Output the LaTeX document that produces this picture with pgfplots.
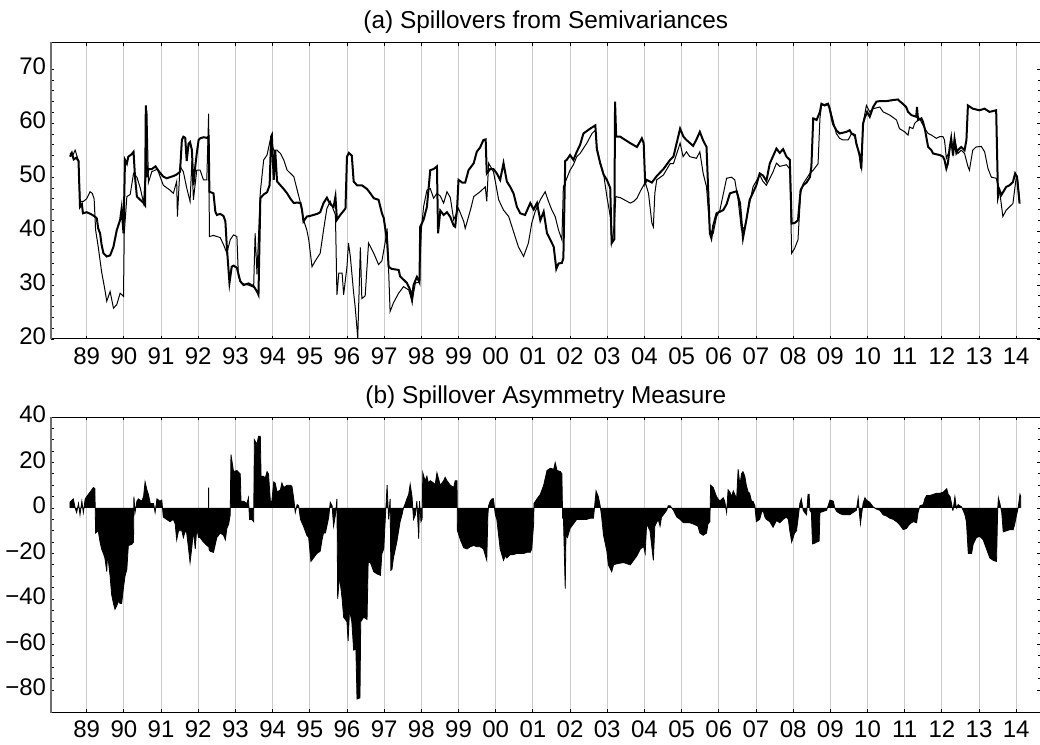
\documentclass[border=0pt]{standalone}
\usepackage{fontspec}
\setmainfont{Liberation Sans}
\usepackage{pgfplots}
\pgfplotsset{compat=1.18}
\definecolor{gridgray}{RGB}{204,204,204}
\definecolor{leftgray}{RGB}{110,110,110}
\pgfplotsset{
  spillstyle/.style={
    scale only axis, width=494.8pt, xmin=1988.04, xmax=2014.655,
    xtick={1989,1990,1991,1992,1993,1994,1995,1996,1997,1998,1999,2000,2001,2002,2003,2004,2005,2006,2007,2008,2009,2010,2011,2012,2013,2014},
    xticklabels={89,90,91,92,93,94,95,96,97,98,99,00,01,02,03,04,05,06,07,08,09,10,11,12,13,14},
    typeset ticklabels with strut,
    xmajorgrids, major grid style={gridgray, line width=0.45pt},
    tick align=inside, major tick length=1.7pt, minor tick length=1.4pt,
    tick style={black, line width=0.4pt},
    axis line style={line width=0.5pt},
    ticklabel style={font=\fontsize{12}{14}\selectfont},
    yticklabel style={inner xsep=2.3pt},
    xticklabel style={inner ysep=2.6pt},
    /pgf/number format/assume math mode=true,
    every axis title shift=0pt,
    title style={font=\fontsize{12.2}{14}\selectfont, yshift=0.9pt},
    after end axis/.code={\draw[leftgray, line width=0.8pt] (rel axis cs:0,0) -- (rel axis cs:0,1);},
  }
}
\begin{document}
\begin{tikzpicture}
\useasboundingbox (0,0) rectangle (520pt,372.5pt);
% ---------------- (a) ----------------
\begin{axis}[spillstyle, at={(25.5pt,203pt)}, anchor=south west, height=148.35pt,
  ymin=20, ymax=75, ytick={20,30,...,70}, minor y tick num=4,
  title={(a) Spillovers from Semivariances}]
\addplot[black, line width=0.5pt] coordinates {
(1988.55,54.5)(1988.62,54.0)(1988.69,55.0)(1988.78,53.0)(1988.82,45.5)(1988.91,45.5)(1989.00,46.0)
(1989.09,47.3)(1989.15,47.0)(1989.20,46.0)(1989.24,40.2)(1989.31,37.1)(1989.40,32.5)(1989.49,29.1)
(1989.54,27.0)(1989.63,28.8)(1989.72,25.7)(1989.81,26.4)(1989.90,28.5)(1989.99,27.9)(1990.01,39.6)
(1990.08,46.4)(1990.17,46.8)(1990.26,50.7)(1990.35,50.0)(1990.44,48.0)(1990.53,45.2)(1990.57,50.0)
(1990.62,62.4)(1990.66,49.0)(1990.75,51.0)(1990.90,51.5)(1991.06,48.5)(1991.24,47.6)(1991.33,47.0)
(1991.42,49.2)(1991.44,42.7)(1991.51,52.0)(1991.60,51.0)(1991.69,48.0)(1991.78,45.5)(1991.83,53.0)
(1991.87,45.8)(1991.96,51.3)(1992.05,51.3)(1992.14,49.5)(1992.23,49.5)(1992.28,61.8)(1992.30,39.0)
(1992.41,39.2)(1992.59,38.8)(1992.68,37.5)(1992.77,35.9)(1992.86,38.4)(1992.95,39.3)(1993.04,39.0)
(1993.08,31.6)(1993.17,30.3)(1993.35,30.0)(1993.49,29.6)(1993.53,39.6)(1993.58,32.0)(1993.67,47.3)
(1993.76,53.2)(1993.85,54.1)(1993.94,57.0)(1994.03,55.0)(1994.12,55.0)(1994.21,54.4)(1994.30,53.2)
(1994.39,51.3)(1994.57,50.1)(1994.75,45.2)(1994.83,42.1)(1994.92,40.2)(1994.97,38.5)(1995.06,33.4)
(1995.15,34.5)(1995.28,35.9)(1995.37,40.2)(1995.46,44.2)(1995.55,45.5)(1995.69,43.0)(1995.73,28.2)
(1995.78,32.2)(1995.87,32.2)(1995.91,28.2)(1996.00,33.4)(1996.04,37.8)(1996.09,35.3)(1996.18,28.5)
(1996.22,26.0)(1996.29,20.2)(1996.36,37.0)(1996.40,27.5)(1996.49,28.0)(1996.58,37.8)(1996.72,35.9)
(1996.85,33.8)(1996.94,34.5)(1997.03,38.0)(1997.08,40.5)(1997.12,32.8)(1997.16,25.1)(1997.25,26.7)
(1997.39,28.5)(1997.52,29.7)(1997.66,29.1)(1997.75,27.0)(1997.84,30.4)(1997.95,30.5)(1998.00,40.2)
(1998.06,44.5)(1998.15,47.6)(1998.24,47.9)(1998.33,46.1)(1998.42,47.0)(1998.51,46.5)(1998.60,45.2)
(1998.69,47.3)(1998.78,46.2)(1998.87,42.1)(1999.00,44.2)(1999.14,41.8)(1999.18,40.5)(1999.32,43.9)
(1999.41,46.4)(1999.58,47.3)(1999.72,48.2)(1999.76,45.5)(1999.81,52.6)(1999.94,51.0)(1999.99,49.2)
(2000.08,45.8)(2000.21,43.9)(2000.35,42.7)(2000.48,39.9)(2000.61,37.1)(2000.75,35.3)(2000.88,37.8)
(2000.97,41.5)(2001.06,43.6)(2001.20,45.8)(2001.33,47.3)(2001.42,45.5)(2001.51,43.9)(2001.60,42.7)
(2001.69,40.2)(2001.78,38.4)(2001.82,48.2)(2002.00,51.3)(2002.09,52.3)(2002.18,53.8)(2002.27,54.4)
(2002.45,56.3)(2002.59,58.1)(2002.68,58.7)(2002.72,55.6)(2002.81,52.6)(2002.90,50.7)(2002.99,46.4)
(2003.08,42.8)(2003.12,37.8)(2003.19,41.0)(2003.23,46.4)(2003.35,46.2)(2003.62,45.2)(2003.71,45.5)
(2003.80,46.1)(2003.89,47.4)(2003.98,48.5)(2004.02,49.1)(2004.11,47.0)(2004.20,41.5)(2004.24,40.8)
(2004.28,47.0)(2004.33,49.5)(2004.51,50.4)(2004.69,52.5)(2004.78,52.5)(2004.96,56.3)(2005.04,53.8)
(2005.13,54.7)(2005.22,53.8)(2005.40,53.5)(2005.49,54.7)(2005.58,50.7)(2005.67,48.2)(2005.76,40.2)
(2005.85,39.6)(2005.94,42.7)(2006.03,43.9)(2006.21,49.8)(2006.34,50.0)(2006.43,49.5)(2006.52,45.8)
(2006.61,40.2)(2006.70,40.8)(2006.83,45.2)(2006.92,48.2)(2007.10,50.4)(2007.19,49.2)(2007.28,48.5)
(2007.46,51.0)(2007.55,52.6)(2007.64,52.0)(2007.82,52.3)(2007.91,51.5)(2007.96,35.9)(2008.04,36.8)
(2008.13,38.4)(2008.20,47.0)(2008.27,48.8)(2008.45,50.7)(2008.54,51.3)(2008.67,52.5)(2008.72,60.9)
(2008.76,63.3)(2008.90,63.6)(2008.98,63.0)(2009.07,60.6)(2009.16,58.1)(2009.25,57.2)(2009.34,56.9)
(2009.48,56.9)(2009.57,58.1)(2009.66,57.5)(2009.75,55.0)(2009.84,51.6)(2009.88,59.9)(2009.97,63.3)
(2010.06,62.1)(2010.15,62.7)(2010.33,63.0)(2010.42,62.1)(2010.60,61.5)(2010.78,60.6)(2010.86,59.0)
(2011.00,58.4)(2011.09,57.8)(2011.13,59.3)(2011.22,59.0)(2011.27,60.0)(2011.40,60.9)(2011.54,59.0)
(2011.63,58.1)(2011.72,57.8)(2011.85,57.2)(2011.94,57.5)(2012.03,57.5)(2012.07,56.9)(2012.12,53.5)
(2012.21,55.0)(2012.25,57.2)(2012.30,54.4)(2012.34,57.2)(2012.43,54.4)(2012.52,55.0)(2012.61,54.4)
(2012.70,52.0)(2012.74,51.3)(2012.83,55.0)(2012.92,55.6)(2013.06,55.7)(2013.15,54.7)(2013.24,51.6)
(2013.33,50.0)(2013.46,49.8)(2013.55,47.6)(2013.64,42.7)(2013.73,43.9)(2013.91,45.1)(2014.00,50.0)
(2014.04,49.4)(2014.09,45.7)
};
\addplot[black, line width=1pt] coordinates {
(1988.55,53.8)(1988.60,54.5)(1988.65,53.3)(1988.72,53.6)(1988.78,53.0)(1988.82,44.5)(1988.87,45.0)
(1988.90,43.3)(1989.00,43.5)(1989.10,43.2)(1989.20,42.8)(1989.27,42.4)(1989.31,40.5)(1989.36,39.6)
(1989.40,37.5)(1989.45,35.9)(1989.54,35.3)(1989.63,35.5)(1989.72,37.1)(1989.81,40.2)(1989.90,42.1)
(1989.94,44.2)(1989.99,39.6)(1990.03,53.2)(1990.08,52.5)(1990.12,53.8)(1990.20,54.2)(1990.26,54.7)
(1990.30,50.0)(1990.35,46.4)(1990.44,45.8)(1990.53,45.2)(1990.57,44.8)(1990.59,63.3)(1990.62,50.0)
(1990.66,51.5)(1990.75,51.5)(1990.85,52.0)(1990.95,51.0)(1991.06,50.1)(1991.15,49.8)(1991.24,50.0)
(1991.33,50.2)(1991.42,50.5)(1991.51,51.0)(1991.56,56.9)(1991.60,57.5)(1991.65,57.3)(1991.69,53.0)
(1991.74,56.2)(1991.78,56.5)(1991.83,55.0)(1991.87,48.5)(1991.92,52.0)(1991.96,54.4)(1992.01,56.9)
(1992.05,57.2)(1992.14,57.4)(1992.23,57.3)(1992.28,57.5)(1992.30,47.3)(1992.41,47.0)(1992.46,43.6)
(1992.50,43.0)(1992.59,43.2)(1992.68,42.8)(1992.73,41.8)(1992.77,37.0)(1992.84,30.4)(1992.90,33.4)
(1992.95,33.6)(1993.04,33.2)(1993.13,30.7)(1993.22,30.0)(1993.35,30.3)(1993.49,29.8)(1993.58,28.8)
(1993.62,28.2)(1993.67,46.1)(1993.76,46.8)(1993.85,47.2)(1993.92,48.5)(1993.96,57.5)(1993.98,57.8)
(1994.03,49.5)(1994.07,55.0)(1994.12,49.2)(1994.21,48.5)(1994.30,47.8)(1994.39,47.0)(1994.48,46.0)
(1994.57,45.2)(1994.66,45.3)(1994.75,45.2)(1994.79,44.0)(1994.83,41.8)(1994.92,42.7)(1995.00,42.8)
(1995.10,43.0)(1995.20,43.2)(1995.28,43.5)(1995.37,45.2)(1995.46,46.2)(1995.55,45.0)(1995.64,44.5)
(1995.69,46.4)(1995.73,42.1)(1995.82,43.0)(1995.96,44.2)(1996.00,53.8)(1996.05,54.5)(1996.13,54.0)
(1996.18,49.2)(1996.27,48.5)(1996.40,48.5)(1996.54,47.8)(1996.63,47.0)(1996.72,46.1)(1996.85,45.8)
(1996.94,43.3)(1996.99,42.4)(1997.08,38.0)(1997.12,33.4)(1997.20,33.0)(1997.39,32.8)(1997.43,31.6)
(1997.52,31.0)(1997.61,30.4)(1997.70,29.1)(1997.75,27.3)(1997.79,30.0)(1997.88,31.5)(1997.95,30.5)
(1997.97,40.8)(1998.06,42.1)(1998.15,44.5)(1998.24,51.3)(1998.33,51.5)(1998.42,52.0)(1998.45,39.6)
(1998.51,43.8)(1998.60,43.0)(1998.69,43.5)(1998.78,42.6)(1998.87,41.0)(1998.91,40.8)(1998.96,44.0)
(1999.00,49.5)(1999.10,49.0)(1999.18,49.0)(1999.27,51.3)(1999.41,52.6)(1999.49,54.7)(1999.58,55.5)
(1999.67,56.9)(1999.73,57.0)(1999.76,50.7)(1999.85,51.5)(1999.94,51.5)(2000.03,50.7)(2000.12,49.5)
(2000.21,52.6)(2000.30,49.2)(2000.39,48.2)(2000.48,47.0)(2000.57,44.5)(2000.66,43.3)(2000.79,43.0)
(2000.93,45.2)(2001.02,44.0)(2001.11,45.2)(2001.20,42.0)(2001.29,43.6)(2001.38,39.6)(2001.47,38.4)
(2001.56,37.1)(2001.63,33.0)(2001.69,34.0)(2001.78,34.1)(2001.82,35.0)(2001.87,53.0)(2001.91,53.2)
(2002.00,54.1)(2002.09,53.2)(2002.18,54.7)(2002.27,56.0)(2002.36,58.1)(2002.54,59.0)(2002.68,59.6)
(2002.72,55.2)(2002.81,52.6)(2002.90,50.5)(2002.99,49.5)(2003.08,48.0)(2003.12,37.8)(2003.19,38.5)
(2003.21,64.0)(2003.24,57.5)(2003.35,57.5)(2003.62,56.3)(2003.80,55.6)(2003.93,57.2)(2003.98,56.3)
(2004.02,48.9)(2004.06,49.5)(2004.20,49.0)(2004.33,50.2)(2004.51,51.5)(2004.69,53.2)(2004.78,53.8)
(2004.96,59.0)(2005.05,57.5)(2005.13,56.9)(2005.31,55.8)(2005.40,57.0)(2005.49,58.4)(2005.58,56.8)
(2005.67,55.6)(2005.76,39.6)(2005.80,38.7)(2005.85,41.0)(2005.94,43.3)(2006.12,43.9)(2006.21,45.0)
(2006.30,47.0)(2006.48,47.4)(2006.57,45.2)(2006.65,38.7)(2006.74,42.0)(2006.83,45.8)(2007.01,48.5)
(2007.10,50.7)(2007.19,50.3)(2007.28,49.3)(2007.37,52.5)(2007.55,55.3)(2007.64,54.5)(2007.73,55.2)
(2007.82,53.8)(2007.91,53.2)(2007.96,41.4)(2008.04,41.5)(2008.13,42.0)(2008.20,47.6)(2008.27,48.5)
(2008.36,49.0)(2008.45,50.0)(2008.49,51.9)(2008.54,60.9)(2008.63,60.6)(2008.72,62.1)(2008.76,63.6)
(2008.85,63.3)(2008.94,63.6)(2008.98,62.7)(2009.07,59.9)(2009.16,58.7)(2009.25,58.1)(2009.43,58.4)
(2009.52,58.7)(2009.57,58.1)(2009.66,57.8)(2009.70,56.2)(2009.75,55.0)(2009.79,54.1)(2009.83,51.6)
(2009.84,53.2)(2009.88,59.9)(2009.92,60.9)(2009.99,62.1)(2010.06,61.2)(2010.15,63.0)(2010.24,64.0)
(2010.33,64.1)(2010.51,64.1)(2010.69,64.3)(2010.82,64.4)(2010.86,64.1)(2010.95,63.6)(2011.04,63.0)
(2011.09,62.1)(2011.18,61.5)(2011.31,61.2)(2011.33,63.0)(2011.36,60.6)(2011.45,60.9)(2011.49,60.3)
(2011.54,59.0)(2011.58,57.5)(2011.63,55.6)(2011.72,55.0)(2011.76,54.4)(2011.94,54.1)(2012.03,53.8)
(2012.07,53.2)(2012.12,51.6)(2012.16,52.5)(2012.21,55.5)(2012.25,57.2)(2012.30,54.0)(2012.34,57.0)
(2012.39,54.5)(2012.43,55.0)(2012.52,55.6)(2012.61,55.0)(2012.66,56.9)(2012.70,63.3)(2012.83,62.7)
(2013.01,62.4)(2013.15,62.7)(2013.28,62.1)(2013.46,62.4)(2013.51,46.4)(2013.55,47.6)(2013.60,46.7)
(2013.73,48.2)(2013.82,48.5)(2013.91,49.1)(2013.97,50.7)(2014.02,50.1)(2014.09,45.1)
};
\end{axis}
% ---------------- (b) ----------------
\begin{axis}[spillstyle, at={(25.5pt,16.15pt)}, anchor=south west, height=147.85pt,
  ymin=-90, ymax=40, ytick={-80,-60,...,40},
  yticklabels={−80,−60,−40,−20,0,20,40}, minor y tick num=3,
  title={(b) Spillover Asymmetry Measure}]
\addplot[fill=black, draw=black, line width=0.4pt] coordinates {
(1988.55,0)(1988.55,2.5)(1988.64,4)(1988.69,0)(1988.73,-2)(1988.78,2)(1988.82,-3)(1988.87,3)(1988.91,-2)
(1988.96,4)(1989.00,5)(1989.09,7)(1989.18,9)(1989.22,8.5)(1989.24,-11)(1989.31,-10)(1989.36,-15)
(1989.40,-18)(1989.45,-20)(1989.49,-22)(1989.54,-28)(1989.56,-20)(1989.63,-30)(1989.67,-38)
(1989.72,-42)(1989.76,-44.5)(1989.81,-43)(1989.85,-41)(1989.90,-42)(1989.94,-42)(1989.99,-35)
(1990.03,-30)(1990.08,-27)(1990.12,-16.5)(1990.21,-16)(1990.26,-15)(1990.27,5)(1990.30,-2)
(1990.35,3)(1990.39,4)(1990.48,3)(1990.53,5)(1990.57,11.5)(1990.62,8)(1990.66,6)(1990.71,2)
(1990.80,2)(1990.84,-2)(1990.89,4)(1990.97,3)(1991.02,3.5)(1991.05,-2)(1991.06,-4)(1991.15,-5)
(1991.24,-6)(1991.33,-5)(1991.38,-7)(1991.42,-14)(1991.47,-10)(1991.56,-10)(1991.60,-13)
(1991.65,-10)(1991.69,-11)(1991.74,-18)(1991.78,-24)(1991.83,-17)(1991.87,-10)(1991.92,-18)
(1991.96,-9)(1992.01,-13)(1992.05,-13)(1992.14,-15)(1992.27,-17)(1992.28,9)(1992.29,-18)
(1992.32,-19)(1992.41,-19.5)(1992.50,-13)(1992.59,-11)(1992.68,-12)(1992.73,-14)(1992.77,-9)
(1992.82,-7)(1992.86,-3)(1992.88,23.5)(1992.95,16)(1993.04,16.5)(1993.13,15)(1993.15,3)
(1993.22,3)(1993.31,2)(1993.35,4.5)(1993.38,-5)(1993.44,-5)(1993.49,-6)(1993.51,30)(1993.58,28)
(1993.62,31.5)(1993.67,31.5)(1993.69,14)(1993.76,14)(1993.80,13)(1993.85,16)(1993.89,15)
(1993.94,3)(1993.98,3)(1994.03,11.5)(1994.07,11)(1994.12,7)(1994.21,8)(1994.25,11)(1994.30,9)
(1994.39,10)(1994.48,10)(1994.52,9.5)(1994.57,4)(1994.61,-2)(1994.66,1.5)(1994.70,1)(1994.75,-5)
(1994.83,-8)(1994.92,-12)(1994.97,-13)(1995.03,-23.5)(1995.10,-22)(1995.19,-20)(1995.28,-19)
(1995.33,-14)(1995.37,-11)(1995.42,-11)(1995.46,-8)(1995.51,-4)(1995.55,2.5)(1995.60,1)
(1995.64,-8)(1995.69,-3)(1995.73,4)(1995.75,-40)(1995.80,-30)(1995.87,-40)(1995.91,-48)
(1996.00,-50)(1996.03,-58.5)(1996.07,-45)(1996.13,-50)(1996.18,-62.5)(1996.24,-62)(1996.27,-84)
(1996.35,-83.5)(1996.37,-50)(1996.45,-48)(1996.54,-49)(1996.57,-24)(1996.63,-24)(1996.72,-28)
(1996.81,-29)(1996.90,-29.6)(1996.94,-20)(1996.99,-18)(1997.03,-5)(1997.08,10)(1997.12,-5)
(1997.16,4)(1997.18,-27.4)(1997.21,-27)(1997.25,-22)(1997.34,-15)(1997.39,-10)(1997.43,-6)
(1997.48,-3)(1997.52,0)(1997.57,2)(1997.61,4)(1997.66,6)(1997.70,10.5)(1997.75,5)(1997.79,-5)
(1997.84,-3)(1997.88,3)(1997.93,-13.6)(1997.95,3)(1997.99,-6)(1998.02,-5)(1998.04,15.5)
(1998.10,12)(1998.15,14)(1998.19,11)(1998.24,12)(1998.33,11)(1998.37,10)(1998.42,15.5)
(1998.46,13)(1998.51,10)(1998.60,12)(1998.64,13.5)(1998.69,12)(1998.78,10)(1998.87,9)
(1998.91,12)(1998.96,12)(1998.97,-9.9)(1999.05,-14)(1999.14,-17.5)(1999.23,-18)(1999.32,-17)
(1999.41,-16.5)(1999.49,-17)(1999.58,-17)(1999.67,-18)(1999.76,-23)(1999.79,-3)(1999.81,1)
(1999.85,3)(1999.90,4)(1999.94,4)(1999.99,-3)(2000.03,-5)(2000.12,-18)(2000.21,-23)(2000.26,-21)
(2000.30,-22)(2000.39,-20.5)(2000.48,-20.5)(2000.57,-20)(2000.66,-20)(2000.75,-20)(2000.84,-19.5)
(2000.93,-19.5)(2000.97,-18)(2001.02,-7)(2001.03,2)(2001.11,4)(2001.20,6)(2001.29,10)
(2001.38,16.5)(2001.47,17.5)(2001.56,17)(2001.60,20)(2001.65,16.5)(2001.74,16)(2001.78,15)
(2001.80,-4)(2001.82,-3)(2001.87,-35.5)(2001.89,-12)(2001.93,-13)(2002.00,-9)(2002.09,-7)
(2002.18,-5)(2002.27,-5)(2002.36,-5)(2002.45,-5)(2002.54,-4.5)(2002.63,-4.5)(2002.70,7.5)
(2002.76,5)(2002.81,1)(2002.85,-4)(2002.90,-12)(2002.99,-19)(2003.03,-25)(2003.12,-28)
(2003.17,-25)(2003.26,-24.5)(2003.44,-24)(2003.62,-25)(2003.71,-23)(2003.80,-21)(2003.89,-18)
(2003.98,-17)(2004.02,-20)(2004.06,-7)(2004.15,-10)(2004.24,-23)(2004.28,-8)(2004.37,-5)
(2004.42,-8)(2004.46,-4)(2004.51,-3)(2004.60,-1)(2004.64,1)(2004.69,1)(2004.78,-1)(2004.87,-4)
(2004.96,-5)(2005.05,-6.5)(2005.22,-6.5)(2005.31,-7)(2005.44,-8)(2005.49,-11)(2005.58,-12)
(2005.67,-11)(2005.71,-7)(2005.76,-6)(2005.78,10)(2005.85,9)(2005.94,5)(2005.98,4)(2006.03,3)
(2006.12,4.5)(2006.16,3)(2006.21,-2)(2006.25,8)(2006.30,7)(2006.34,5)(2006.39,7.5)(2006.43,6)
(2006.48,4)(2006.52,17)(2006.57,10)(2006.61,15)(2006.65,16)(2006.70,14)(2006.74,10)(2006.79,7)
(2006.83,6.5)(2006.88,3)(2006.92,3)(2006.97,1)(2007.01,-6)(2007.10,-5)(2007.15,-2)(2007.19,-1)
(2007.24,-4)(2007.28,-5)(2007.37,-6)(2007.46,-8.5)(2007.55,-5.5)(2007.64,-6.5)(2007.73,-5)
(2007.82,-4)(2007.87,-5)(2007.91,-10)(2007.96,-15)(2008.00,-13)(2008.04,-11)(2008.09,-10)
(2008.13,-5)(2008.18,2)(2008.22,4)(2008.27,-1)(2008.31,-2)(2008.36,-3)(2008.40,6)(2008.43,6)
(2008.45,-1)(2008.49,-2)(2008.52,-15.8)(2008.58,-15.5)(2008.63,-15)(2008.70,-14.5)(2008.72,-2)
(2008.81,-1.5)(2008.90,-1)(2008.94,1)(2008.99,3.5)(2009.08,3)(2009.12,0)(2009.17,-1.5)
(2009.26,-2.5)(2009.35,-3)(2009.52,-3)(2009.61,-2)(2009.70,-1)(2009.75,4.5)(2009.78,-2)
(2009.81,-7)(2009.84,-3)(2009.88,2)(2009.93,4.5)(2009.97,3.5)(2010.06,2.5)(2010.15,0.5)
(2010.24,-0.5)(2010.33,-1)(2010.42,-3)(2010.51,-3.5)(2010.60,-4.5)(2010.69,-5)(2010.78,-6)
(2010.87,-7.5)(2010.96,-9.5)(2011.05,-9)(2011.09,-8)(2011.14,-7)(2011.23,-6)(2011.32,-6.5)
(2011.36,-2)(2011.41,1)(2011.50,1.5)(2011.54,4)(2011.59,5.5)(2011.68,5.5)(2011.77,6)(2011.86,6.5)
(2011.95,6.5)(2012.04,7)(2012.13,8.5)(2012.17,6)(2012.22,5)(2012.26,2)(2012.29,-1)(2012.30,-1)
(2012.35,5)(2012.39,0)(2012.44,1.5)(2012.48,1)(2012.53,0.5)(2012.57,-1)(2012.62,-3)(2012.66,-6)
(2012.71,-20)(2012.80,-20)(2012.84,-16)(2012.93,-13)(2013.02,-12.5)(2013.11,-14)(2013.20,-18)
(2013.29,-22)(2013.38,-23)(2013.47,-23.5)(2013.50,-1)(2013.52,4.5)(2013.56,2)(2013.61,-2)
(2013.65,-10.5)(2013.74,-10)(2013.83,-9.5)(2013.92,-9.5)(2013.96,-7)(2014.01,-3)(2014.05,0)
(2014.10,6)(2014.12,5)(2014.12,0)
};
\end{axis}
\end{tikzpicture}
\end{document}
